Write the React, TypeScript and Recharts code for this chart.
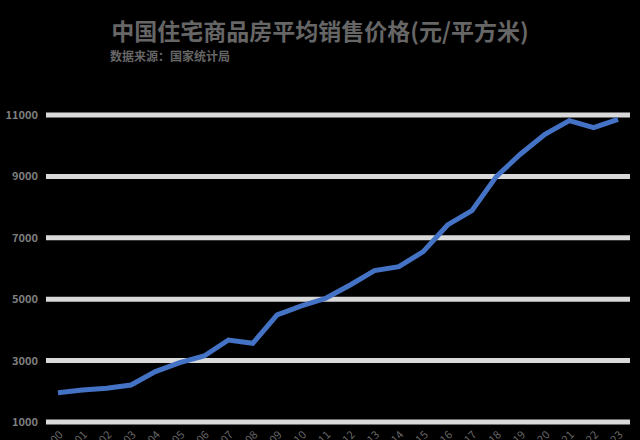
import { LineChart, Line, XAxis, YAxis, CartesianGrid } from "recharts"

const years = [
  "2000", "2001", "2002", "2003", "2004", "2005", "2006", "2007",
  "2008", "2009", "2010", "2011", "2012", "2013", "2014", "2015",
  "2016", "2017", "2018", "2019", "2020", "2021", "2022", "2023"
]
const prices = [
  1955, 2043, 2097, 2205, 2640, 2933, 3150, 3671,
  3563, 4486, 4779, 5029, 5463, 5930, 6061, 6549,
  7418, 7885, 8993, 9731, 10372, 10817, 10589, 10861
]
const yTicks = [1000, 3000, 5000, 7000, 9000, 11000]

const data = years.map((year, i) => ({ year, price: prices[i] }))

const font = '"Noto Sans CJK SC", "Noto Sans", sans-serif'

export default function App() {
  return (
    <div
      style={{
        position: "absolute",
        top: 0,
        left: 0,
        width: 640,
        height: 440,
        overflow: "hidden",
        background: "#000",
        fontFamily: font
      }}
    >
      <div
        style={{
          position: "absolute",
          top: 15,
          left: 0,
          width: 640,
          textAlign: "center",
          fontSize: 23,
          fontWeight: 700,
          color: "#666",
          lineHeight: "30px"
        }}
      >
        中国住宅商品房平均销售价格(元/平方米)
      </div>
      <div
        style={{
          position: "absolute",
          top: 49,
          left: 110,
          fontSize: 12,
          fontWeight: 700,
          color: "#666",
          lineHeight: "14px"
        }}
      >
        数据来源：国家统计局
      </div>
      <LineChart
        width={640}
        height={462}
        data={data}
        margin={{ top: 115, right: 10, left: 6, bottom: 0 }}
      >
        <CartesianGrid
          horizontal
          vertical={false}
          stroke="#d9d9d9"
          strokeWidth={5}
        />
        {/* year labels are rotated and run off the bottom edge, as in the source */}
        <XAxis
          dataKey="year"
          height={40}
          axisLine={false}
          tickLine={false}
          interval={0}
          padding={{ left: 12, right: 12 }}
          tick={{ fontSize: 11, fill: "#666", angle: -45, textAnchor: "end", fontFamily: font }}
        />
        <YAxis
          width={40}
          domain={[1000, 11000]}
          ticks={yTicks}
          axisLine={false}
          tickLine={false}
          tick={{ fontSize: 11, fill: "#7f7f7f", fontWeight: 700, fontFamily: font }}
        />
        <Line
          type="linear"
          dataKey="price"
          stroke="#4472c4"
          strokeWidth={5}
          dot={false}
          isAnimationActive={false}
        />
      </LineChart>
    </div>
  )
}
